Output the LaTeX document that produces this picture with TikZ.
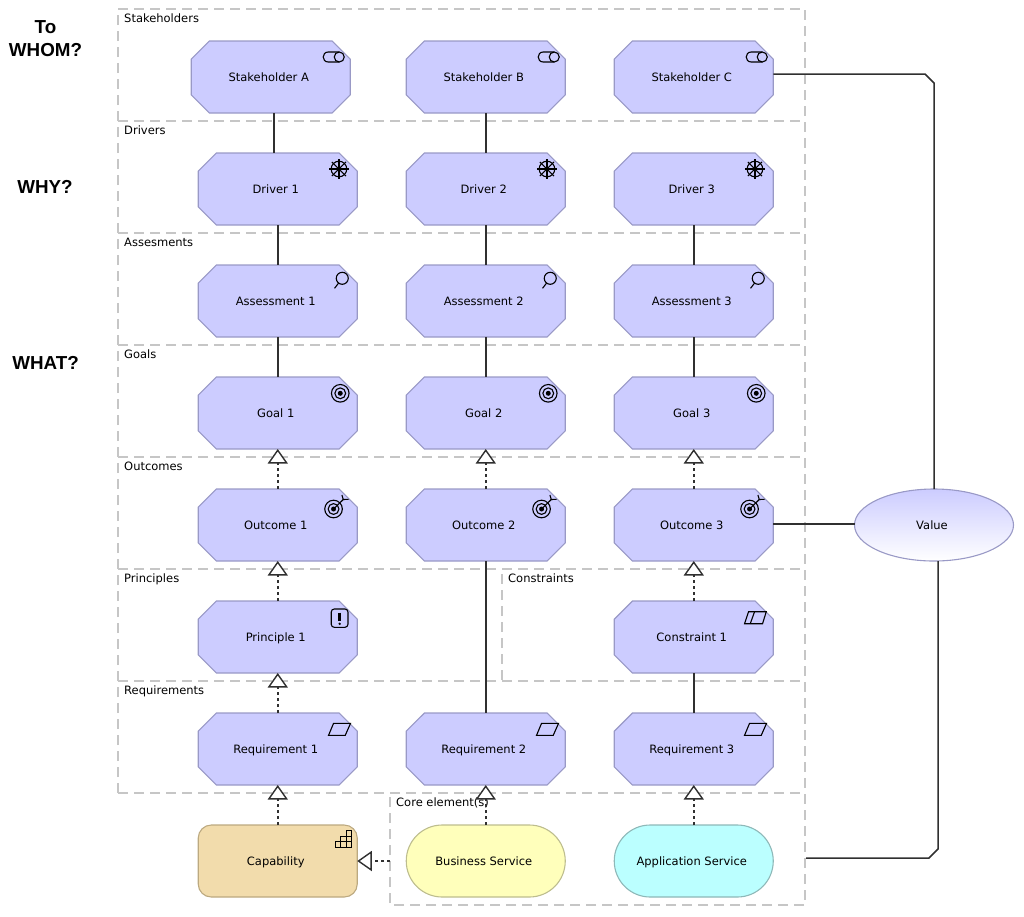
\documentclass[tikz,border=0pt]{standalone}
\usepackage{fontspec}
\setmainfont{DejaVu Sans}
\newfontfamily\headfont{Liberation Sans}
\usetikzlibrary{shapes.misc,shapes.geometric,arrows.meta}
\definecolor{motfill}{HTML}{CCCCFF}
\definecolor{motline}{HTML}{9999C6}
\definecolor{capfill}{HTML}{F2DCAC}
\definecolor{capline}{HTML}{BCA980}
\definecolor{busfill}{HTML}{FFFFBB}
\definecolor{busline}{HTML}{BDBD8E}
\definecolor{appfill}{HTML}{BBFFFF}
\definecolor{appline}{HTML}{8EB8B8}
\definecolor{grpline}{HTML}{C6C6C6}
\definecolor{conline}{HTML}{303030}
\tikzset{
  x=1pt,y=-1pt,
  txtfont/.style={font=\fontsize{11.5}{13}\selectfont},
  entity/.style={txtfont,text=black,inner sep=0pt,outer sep=0pt,line width=1.1pt,
    minimum width=159pt,minimum height=72pt,text height=10.9pt,text depth=1.5pt,
    execute at end node={\kern4pt}},
  motiv/.style={entity,draw=motline,fill=motfill,chamfered rectangle,
    chamfered rectangle xsep=12pt,chamfered rectangle ysep=12pt},
  capab/.style={entity,draw=capline,fill=capfill,rectangle,rounded corners=13pt},
  busserv/.style={entity,draw=busline,fill=busfill,rectangle,rounded corners=35.9pt},
  appserv/.style={entity,draw=appline,fill=appfill,rectangle,rounded corners=35.9pt},
  valnode/.style={entity,ellipse,draw=motline,top color=motfill,bottom color=white},
  grouplabel/.style={txtfont,anchor=base west,inner sep=0pt,text=black},
  headlabel/.style={font=\headfont\bfseries\fontsize{18.8}{23}\selectfont,align=center,inner sep=0pt,text=black},
  grpline/.style={draw=grpline,line width=1.3pt,dash pattern=on 10pt off 6pt},
  assoc/.style={draw=conline,line width=1.5pt},
  realiz/.style={draw=conline,line width=1.5pt,dash pattern=on 3pt off 3pt,
    -{Triangle[length=14.5pt,width=20pt,fill=white,line width=1.4pt]}},
  icon/.style={draw=black,line width=1.1pt},
  pics/icoRole/.style={code={
    \draw[icon] (-11,11) -- (-22,11) .. controls (-28.7,11) and (-28.7,21) .. (-22,21) -- (-11,21);
    \draw[icon] (-11,16) circle[radius=5];}},
  pics/icoDriver/.style={code={
    \draw[icon] (-18.3,16) circle[radius=7.8];
    \foreach \a in {0,45,...,315}{\draw[icon] (-18.3,16) -- ++(\a:10);}
    \fill[black] (-18.3,16) circle[radius=2.3];}},
  pics/icoAssess/.style={code={
    \draw[icon] (-15,13.3) circle[radius=6];
    \draw[icon] (-18.7,18.1) -- (-22.7,23.3);}},
  pics/icoGoal/.style={code={
    \draw[icon] (-17,16.3) circle[radius=8.8];
    \draw[icon] (-17,16.3) circle[radius=5.4];
    \fill[black] (-17,16.3) circle[radius=2.5];}},
  pics/icoOutcome/.style={code={
    \draw[icon] (-23.7,20) circle[radius=8.8];
    \draw[icon] (-23.7,20) circle[radius=5.4];
    \fill[black] (-23.7,20) circle[radius=2.5];
    \draw[icon] (-23.7,20) -- (-14,10.5);
    \draw[icon] (-15.3,6) -- (-14,10.5) -- (-8.7,10.3);}},
  pics/icoPrinciple/.style={code={
    \draw[icon,rounded corners=3pt] (-26,8) rectangle (-9.3,26.3);
    \draw[black,line width=2.4pt] (-17.6,11.5) -- (-17.6,19.5);
    \fill[black] (-17.6,22.8) circle[radius=1.3];}},
  pics/icoRequire/.style={code={
    \draw[icon] (-28.7,22.3) -- (-23.7,10.3) -- (-6.7,10.3) -- (-12,22.3) -- cycle;}},
  pics/icoConstraint/.style={code={
    \draw[icon] (-28.7,22.7) -- (-24.7,10.7) -- (-7,10.7) -- (-10.7,22.7) -- cycle;
    \draw[icon] (-18.7,10.7) -- (-23,22.7);}},
  pics/icoCapab/.style={code={
    \draw[icon] (-22,22.3) -- (-5.4,22.3) -- (-5.4,5.7) -- (-11,5.7) -- (-11,11.2) -- (-16.5,11.2) -- (-16.5,16.7) -- (-22,16.7) -- cycle;
    \draw[icon] (-16.5,16.7) -- (-5.4,16.7) (-11,11.2) -- (-5.4,11.2) (-16.5,16.7) -- (-16.5,22.3) (-11,11.2) -- (-11,22.3);}},
}
\begin{document}
\begin{tikzpicture}
\useasboundingbox (0,0) rectangle (1024,916);
% group frames
\draw[grpline] (118,793) -- (118,9) -- (805,9) -- (805,905) -- (390,905) -- (390,793);
\foreach \yy in {121,233,345,457,569,681,793}{\draw[grpline] (118,\yy) -- (801,\yy);}
\draw[grpline] (502,574) -- (502,681);
\coordinate (coreW) at (390,861);
\coordinate (coreE) at (806,858);
% group labels
\node[grouplabel] (lStake) at (124,22.5) {Stakeholders};
\node[grouplabel] (lDrv) at (124,134.5) {Drivers};
\node[grouplabel] (lAss) at (124,246.5) {Assesments};
\node[grouplabel] (lGoal) at (124,358.5) {Goals};
\node[grouplabel] (lOut) at (124,470.5) {Outcomes};
\node[grouplabel] (lPrin) at (124,582.5) {Principles};
\node[grouplabel] (lCons) at (508,582.5) {Constraints};
\node[grouplabel] (lReq) at (124,694.5) {Requirements};
\node[grouplabel] (lCore) at (396,806.5) {Core element(s)};
% heading labels
\node[headlabel] (hWhom) at (45.5,38.5) {To\\WHOM?};
\node[headlabel] (hWhy) at (45,187) {WHY?};
\node[headlabel] (hWhat) at (45.5,363) {WHAT?};
% elements
\node[motiv] (sA) at (270.75,77) {Stakeholder A};
\node[motiv] (sB) at (485.75,77) {Stakeholder B};
\node[motiv] (sC) at (693.75,77) {Stakeholder C};
\node[motiv] (d1) at (277.75,189) {Driver 1};
\node[motiv] (d2) at (485.75,189) {Driver 2};
\node[motiv] (d3) at (693.75,189) {Driver 3};
\node[motiv] (a1) at (277.75,301) {Assessment 1};
\node[motiv] (a2) at (485.75,301) {Assessment 2};
\node[motiv] (a3) at (693.75,301) {Assessment 3};
\node[motiv] (g1) at (277.75,413) {Goal 1};
\node[motiv] (g2) at (485.75,413) {Goal 2};
\node[motiv] (g3) at (693.75,413) {Goal 3};
\node[motiv] (o1) at (277.75,525) {Outcome 1};
\node[motiv] (o2) at (485.75,525) {Outcome 2};
\node[motiv] (o3) at (693.75,525) {Outcome 3};
\node[motiv] (p1) at (277.75,637) {Principle 1};
\node[motiv] (c1) at (693.75,637) {Constraint 1};
\node[motiv] (r1) at (277.75,749) {Requirement 1};
\node[motiv] (r2) at (485.75,749) {Requirement 2};
\node[motiv] (r3) at (693.75,749) {Requirement 3};
\node[capab] (cap) at (277.75,861) {Capability};
\node[busserv] (bs) at (485.75,861) {Business Service};
\node[appserv] (as) at (693.75,861) {Application Service};
\node[valnode] (V) at (934,525) {Value};
% icons
\foreach \n in {sA,sB,sC}{\pic at (\n.east |- \n.north) {icoRole};}
\foreach \n in {d1,d2,d3}{\pic at (\n.east |- \n.north) {icoDriver};}
\foreach \n in {a1,a2,a3}{\pic at (\n.east |- \n.north) {icoAssess};}
\foreach \n in {g1,g2,g3}{\pic at (\n.east |- \n.north) {icoGoal};}
\foreach \n in {o1,o2,o3}{\pic at (\n.east |- \n.north) {icoOutcome};}
\pic at (p1.east |- p1.north) {icoPrinciple};
\pic at (c1.east |- c1.north) {icoConstraint};
\foreach \n in {r1,r2,r3}{\pic at (\n.east |- \n.north) {icoRequire};}
\pic at (cap.east |- cap.north) {icoCapab};
% associations
\draw[assoc] ([xshift=3.25pt]sA.south) -- ([xshift=-3.75pt]d1.north);
\draw[assoc] (sB.south) -- (d2.north);
\foreach \u/\v in {d1/a1,d2/a2,d3/a3,a1/g1,a2/g2,a3/g3,o2/r2,c1/r3}{\draw[assoc] (\u.south) -- (\v.north);}
\draw[assoc] ([yshift=3pt]sC.east) -- ++(151.75,0) -- ++(9,9) -- (V.north);
\draw[assoc] ([yshift=1pt]o3.east) -- ([yshift=1pt]V.west);
\draw[assoc] ([xshift=4pt]V.south) -- ++(0,288) -- ++(-9,9) -- (coreE);
% realizations
\foreach \u/\v in {o1/g1,o2/g2,o3/g3,p1/o1,c1/o3,r1/p1,cap/r1,bs/r2,as/r3}{\draw[realiz] (\u.north) -- (\v.south);}
\draw[realiz] (coreW) -- (cap.east);
\end{tikzpicture}
\end{document}
